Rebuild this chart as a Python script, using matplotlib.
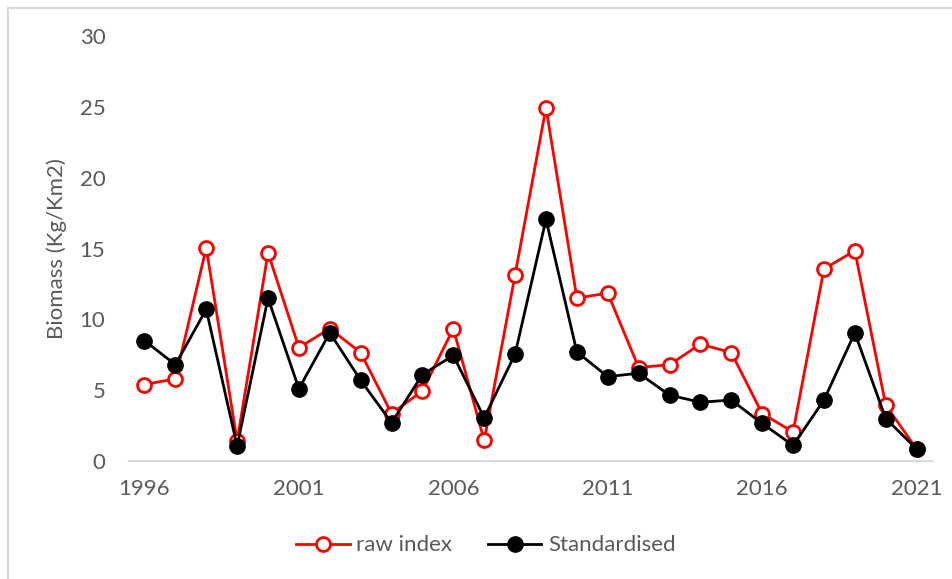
import matplotlib.pyplot as plt
import matplotlib.patches as patches

plt.rcParams['font.family'] = ['Lato', 'DejaVu Sans']

# jaared ja väärtused (loetud pildilt)
aastad = list(range(1996, 2022))
raw_index = [5.4, 5.8, 15.05, 1.4, 14.7, 8.0, 9.35, 7.65, 3.35, 4.95, 9.35, 1.45, 13.15,
             24.95, 11.5, 11.85, 6.6, 6.8, 8.25, 7.65, 3.35, 2.05, 13.55, 14.85, 3.95, 0.85]
standardised = [8.5, 6.8, 10.7, 1.05, 11.5, 5.1, 9.05, 5.7, 2.7, 6.1, 7.45, 3.05, 7.55,
                17.05, 7.7, 5.95, 6.2, 4.65, 4.15, 4.3, 2.65, 1.1, 4.3, 9.05, 3.0, 0.85]
silt_aastad = [1996, 2001, 2006, 2011, 2016, 2021]

hall = '#595959'
kiri = 16

fig = plt.figure(figsize=(9.53, 5.79), dpi=100)
ax = fig.add_axes([0.1354, 0.2038, 0.978 - 0.1354, 0.9378 - 0.2038])

# raam ümber graafiku
fig.patches.append(patches.Rectangle((8 / 953, -0.1), 1.2, 1 - 8 / 579 + 0.1,
                                     transform=fig.transFigure, fill=False,
                                     edgecolor='#d9d9d9', linewidth=1.5))

x = list(range(len(aastad)))
ax.plot(x, raw_index, color='#ff0000', linewidth=2, marker='o', markersize=10,
        markerfacecolor='white', markeredgecolor='#ff0000', markeredgewidth=2,
        label='raw index', zorder=2)
ax.plot(x, standardised, color='black', linewidth=2, marker='o', markersize=11,
        markerfacecolor='black', markeredgecolor='black', label='Standardised', zorder=3)

ax.set_xlim(-0.5, len(aastad) - 0.5)
ax.set_ylim(0, 30)
ax.set_yticks(range(0, 31, 5))
ax.set_xticks([aastad.index(a) for a in silt_aastad])
ax.set_xticklabels([str(a) for a in silt_aastad])

for s in ['top', 'right', 'left']:
    ax.spines[s].set_visible(False)
ax.spines['bottom'].set_color('#d9d9d9')
ax.spines['bottom'].set_linewidth(1.5)
ax.tick_params(axis='both', length=0, labelsize=kiri, colors=hall)
ax.tick_params(axis='y', pad=17)
ax.tick_params(axis='x', pad=13)

ax.set_ylabel('Biomass (Kg/Km2)', fontsize=kiri, color=hall, labelpad=9)

leg = fig.legend(loc='center', bbox_to_anchor=(0.51, 0.058), ncol=2, frameon=False,
                 fontsize=kiri, handlelength=2.4, columnspacing=1.6, handletextpad=0.3)
for t in leg.get_texts():
    t.set_color(hall)

fig.savefig('out.png', dpi=100)
